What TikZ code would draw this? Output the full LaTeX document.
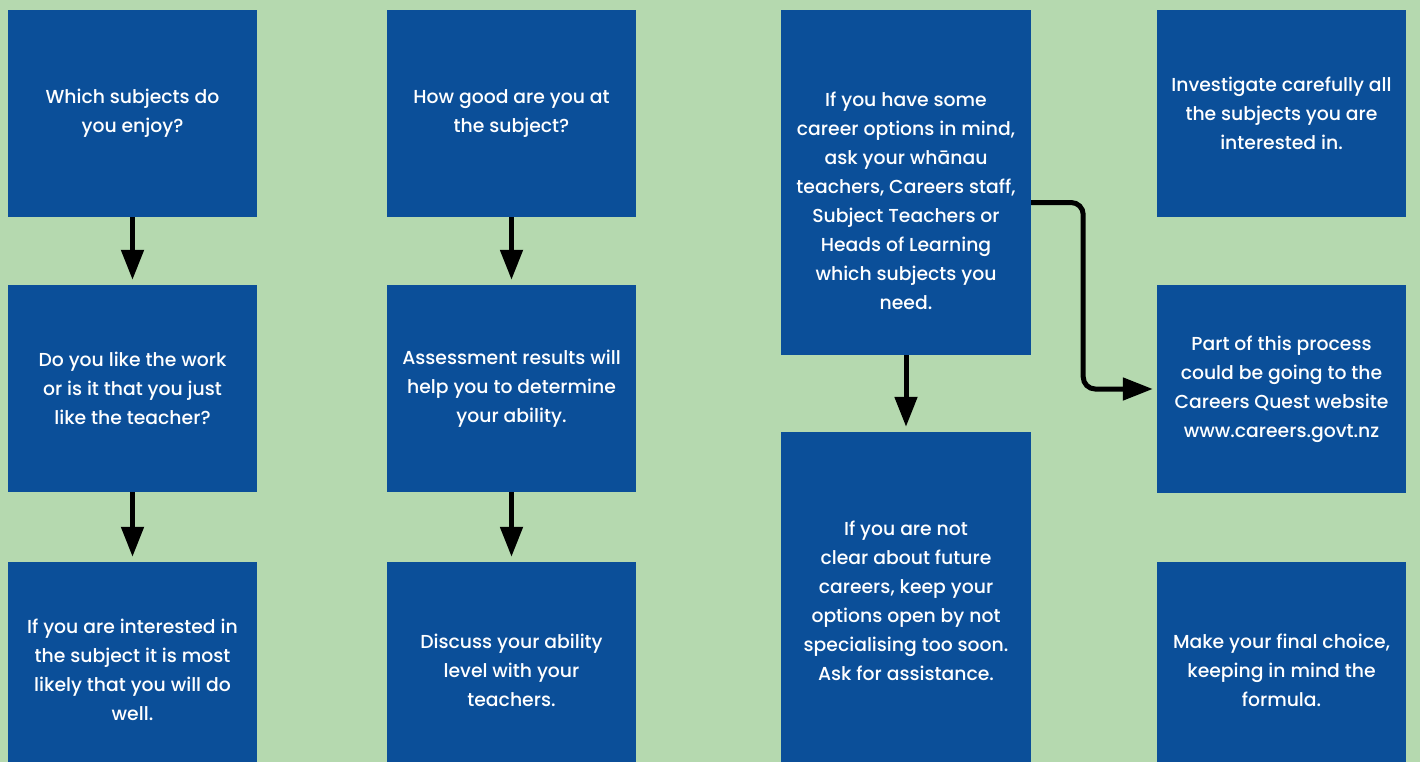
\documentclass[tikz,border=0pt]{standalone}
\usepackage{fontspec}
\setmainfont{Poppins Medium}
\usetikzlibrary{arrows.meta}

\definecolor{bgGreen}{HTML}{B5D9AF}
\definecolor{boxBlue}{HTML}{0B4F99}

\begin{document}
\begin{tikzpicture}
[x=1pt,y=-1pt,
  boxDecorate/.style={fill=boxBlue,draw=none,minimum width=249pt,inner sep=0pt,
    text=white,align=center,font=\fontsize{18.8}{29}\selectfont},%
  arrowDecorate/.style={-{Triangle[width=22pt,length=30pt]},line width=5pt,shorten >=5pt}]
\useasboundingbox (0,0) rectangle (1420,762);
\fill[bgGreen] (0,0) rectangle (1420,762);
\clip (0,0) rectangle (1420,762);
%% first column
\node (a1) at (132.5,113.5) [boxDecorate,minimum height=207pt] {Which subjects do\\you enjoy?};
\node (a2) at (132.5,388.5) [boxDecorate,minimum height=207pt] {Do you like the work\\or is it that you just\\like the teacher?};
\node (a3) at (132.5,670) [boxDecorate,minimum height=216pt] {If you are interested in\\the subject it is most\\likely that you will do\\well.};
%% second column
\node (b1) at (511.5,113.5) [boxDecorate,minimum height=207pt] {How good are you at\\the subject?};
\node (b2) at (511.5,388.5) [boxDecorate,minimum height=207pt] {Assessment results will\\help you to determine\\your ability.};
\node (b3) at (511.5,670) [boxDecorate,minimum height=216pt] {Discuss your ability\\level with your\\teachers.};
%% third column
\node (c1) at (906,182.5) [boxDecorate,minimum width=250pt,minimum height=345pt] {};
\node (c1text) at ([yshift=-18pt]c1.center) [boxDecorate,minimum width=0pt,fill=none]
  {If you have some\\career options in mind,\\ask your wh\=anau\\teachers, Careers staff,\\Subject Teachers or\\Heads of Learning\\which subjects you\\need.};
\node (c2) at (906,601) [boxDecorate,minimum width=250pt,minimum height=338pt] {If you are not\\clear about future\\careers, keep your\\options open by not\\specialising too soon.\\Ask for assistance.};
%% fourth column
\node (d1) at (1281.5,113.5) [boxDecorate,minimum height=207pt] {Investigate carefully all\\the subjects you are\\interested in.};
\node (d2) at (1281.5,389) [boxDecorate,minimum height=208pt] {Part of this process\\could be going to the\\Careers Quest website\\www.careers.govt.nz};
\node (d3) at (1281.5,670) [boxDecorate,minimum height=216pt] {Make your final choice,\\keeping in mind the\\formula.};
%% arrows
\foreach \startnode/\endnode in {a1/a2, a2/a3, b1/b2, b2/b3, c1/c2}
{
  \draw[arrowDecorate] (\startnode.south) -- (\endnode.north);
}
\draw[arrowDecorate,rounded corners=12pt,shorten >=4pt] ([yshift=-20pt]c1.east) -- ++(52,0) |- (d2.west);
\end{tikzpicture}
\end{document}
